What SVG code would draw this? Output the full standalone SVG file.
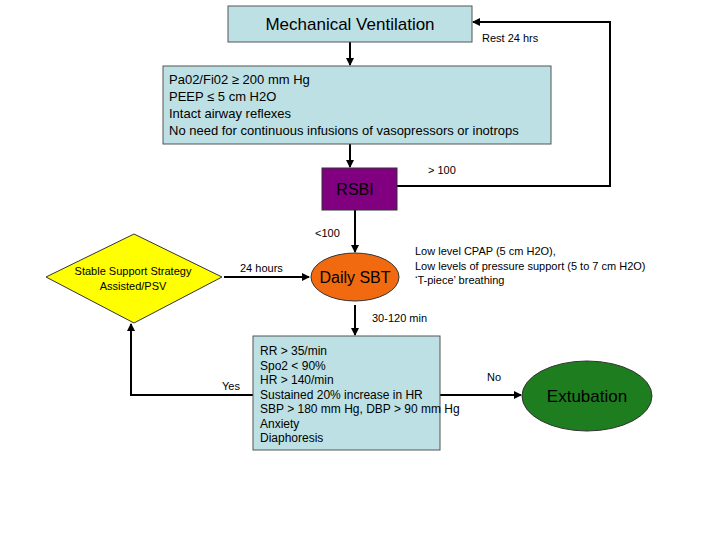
<svg xmlns="http://www.w3.org/2000/svg" width="720" height="540" viewBox="0 0 720 540">
<style>
text{font-family:"Liberation Sans",Arial,sans-serif;fill:#000}
.ln{stroke:#000;stroke-width:2;fill:none}
.box{fill:#bde0e4;stroke:#555;stroke-width:1}
</style>
<defs><marker id="a" markerWidth="8" markerHeight="8" refX="7" refY="4" orient="auto" markerUnits="userSpaceOnUse"><path d="M0,0L8,4L0,8z" fill="#000"/></marker></defs>
<rect width="720" height="540" fill="#fff"/>
<g id="connectors">
<path class="ln" d="M350,42V65" marker-end="url(#a)"/>
<path class="ln" d="M350,144V167" marker-end="url(#a)"/>
<path class="ln" d="M397,186H610V22H473" marker-end="url(#a)"/>
<path class="ln" d="M355,210V252" marker-end="url(#a)"/>
<path class="ln" d="M224,277H309" marker-end="url(#a)"/>
<path class="ln" d="M355,305V335" marker-end="url(#a)"/>
<path class="ln" d="M253,395H131V324" marker-end="url(#a)"/>
<path class="ln" d="M440,395H521" marker-end="url(#a)"/>
<text x="482" y="42" font-size="11">Rest 24 hrs</text>
<text x="428" y="174" font-size="11">&gt; 100</text>
<text x="315" y="237" font-size="11">&lt;100</text>
<text x="240" y="272" font-size="11">24 hours</text>
<text x="372" y="322" font-size="11">30-120 min</text>
<text x="222" y="390" font-size="11">Yes</text>
<text x="487" y="381" font-size="11">No</text>
<text x="415" y="255" font-size="11">Low level CPAP (5 cm H2O),</text>
<text x="415" y="270" font-size="11">Low levels of pressure support (5 to 7 cm H2O)</text>
<text x="415" y="284" font-size="11">‘T-piece’ breathing</text>
</g>
<g id="mv"><rect class="box" x="228" y="6" width="244" height="36"/><text x="350" y="30" font-size="17" text-anchor="middle">Mechanical Ventilation</text></g>
<g id="criteria"><rect class="box" x="163" y="66" width="388" height="78"/>
<text x="169" y="84" font-size="13">Pa02/Fi02 ≥ 200 mm Hg</text>
<text x="169" y="101" font-size="13">PEEP ≤ 5 cm H2O</text>
<text x="169" y="118" font-size="13">Intact airway reflexes</text>
<text x="169" y="135" font-size="13">No need for continuous infusions of vasopressors or inotrops</text></g>
<g id="rsbi"><rect x="322" y="168" width="75" height="42" fill="#800080" stroke="#333"/><text x="355" y="195" font-size="16" text-anchor="middle">RSBI</text></g>
<g id="sbt"><ellipse cx="355" cy="277" rx="44" ry="24" fill="#f26a10" stroke="#333"/><text x="355" y="283" font-size="16" text-anchor="middle">Daily SBT</text></g>
<g id="stable"><path d="M134,234L222,277L134,323L46,277z" fill="#ffff00" stroke="#333"/><text x="133" y="275" font-size="11" text-anchor="middle">Stable Support Strategy</text><text x="133" y="290" font-size="11" text-anchor="middle">Assisted/PSV</text></g>
<g id="fail"><rect class="box" x="253" y="336" width="187" height="114"/>
<text x="260" y="355" font-size="12">RR &gt; 35/min</text>
<text x="260" y="369.5" font-size="12">Spo2 &lt; 90%</text>
<text x="260" y="384" font-size="12">HR &gt; 140/min</text>
<text x="260" y="398.5" font-size="12">Sustained 20% increase in HR</text>
<text x="260" y="413" font-size="12">SBP &gt; 180 mm Hg, DBP &gt; 90 mm Hg</text>
<text x="260" y="427.5" font-size="12">Anxiety</text>
<text x="260" y="442" font-size="12">Diaphoresis</text></g>
<g id="ext"><ellipse cx="587" cy="396" rx="65" ry="35" fill="#1e7d1e" stroke="#333"/><text x="587" y="402" font-size="17" text-anchor="middle">Extubation</text></g>
</svg>
